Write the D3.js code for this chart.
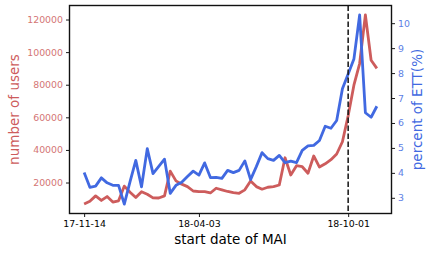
<!DOCTYPE html>
<html><head><meta charset="utf-8">
<script src="https://cdn.jsdelivr.net/npm/d3@7"></script>
<style>
html,body{margin:0;padding:0;background:#fff;}
svg{display:block;font-family:"DejaVu Sans",sans-serif;}
</style></head>
<body><svg id="c" width="426" height="255"></svg>
<script>
const users = [6800, 8500, 11800, 9000, 11400, 8000, 8800, 17800, 14000, 10800, 14400, 12800, 10600, 10500, 11800, 27000, 21000, 19000, 17500, 14800, 14400, 14400, 13600, 16500, 15500, 14500, 13800, 13400, 15500, 21000, 17500, 15900, 17100, 17500, 18500, 35200, 24600, 30300, 29700, 25700, 36300, 29500, 31500, 34000, 37500, 45000, 61000, 79700, 93000, 122800, 95000, 90000];
const ett = [4.01, 3.42, 3.47, 3.8, 3.6, 3.5, 3.5, 2.75, 3.65, 4.5, 3.44, 4.97, 3.97, 4.26, 4.55, 3.18, 3.5, 3.62, 3.85, 4.07, 3.91, 4.40, 3.81, 3.82, 3.78, 4.1, 4.01, 4.1, 4.48, 3.73, 4.25, 4.81, 4.57, 4.5, 4.70, 4.41, 4.47, 4.41, 4.9, 5.08, 5.1, 5.3, 5.87, 5.79, 6.10, 7.37, 7.96, 8.56, 10.33, 6.41, 6.23, 6.67];
const xTickIdx = [0, 20, 46];
const xTickLabels = ["17-11-14", "18-04-03", "18-10-01"];
const leftTicks = [20000, 40000, 60000, 80000, 100000, 120000];
const rightTicks = [3, 4, 5, 6, 7, 8, 9, 10];
const markerIdx = 46;

const red = "#cd5c5c", blue = "#4169e1";
const L = 69.5, R = 391.5, T = 5.5, B = 213.5;
const svg = d3.select("#c");
const n = users.length;
function pad(ext){const r=ext[1]-ext[0];return [ext[0]-0.05*r, ext[1]+0.05*r];}
const x = d3.scaleLinear().domain(pad([0, n-1])).range([L, R]);
const yL = d3.scaleLinear().domain(pad(d3.extent(users))).range([B, T]);
const yR = d3.scaleLinear().domain(pad(d3.extent(ett))).range([B, T]);

const lineU = d3.line().x((d,i)=>x(i)).y(d=>yL(d));
const lineE = d3.line().x((d,i)=>x(i)).y(d=>yR(d));

svg.append("path").datum(users).attr("d", lineU).attr("fill","none")
  .attr("stroke", red).attr("stroke-width", 2.8).attr("stroke-linejoin","round");
svg.append("path").datum(ett).attr("d", lineE).attr("fill","none")
  .attr("stroke", blue).attr("stroke-width", 2.8).attr("stroke-linejoin","round");

svg.append("line").attr("x1", x(markerIdx)).attr("x2", x(markerIdx))
  .attr("y1", T).attr("y2", B).attr("stroke","#222").attr("stroke-width",1.6)
  .attr("stroke-dasharray","5.5,2.5");

// axes
const axL = svg.append("g").attr("transform",`translate(${L},0)`)
  .call(d3.axisLeft(yL).tickValues(leftTicks).tickSize(3.5).tickPadding(3).tickFormat(d3.format("d")));
const axR = svg.append("g").attr("transform",`translate(${R},0)`)
  .call(d3.axisRight(yR).tickValues(rightTicks).tickSize(3.5).tickPadding(3).tickFormat(d3.format("d")));
const axB = svg.append("g").attr("transform",`translate(0,${B})`)
  .call(d3.axisBottom(x).tickValues(xTickIdx).tickSize(3.5).tickPadding(3).tickFormat((d,i)=>xTickLabels[i]));
[axL, axR, axB].forEach(g=>{g.select(".domain").remove();
  g.selectAll("text").style("font-family","DejaVu Sans").style("font-size","9.4px");
  g.selectAll("line").attr("stroke","#000").attr("stroke-width",0.9);});
axL.selectAll("text").attr("fill", red).attr("opacity",0.85);
axR.selectAll("text").attr("fill", blue).attr("opacity",0.85);
axB.selectAll("text").attr("fill", "#000");

svg.append("rect").attr("x",L).attr("y",T).attr("width",R-L).attr("height",B-T)
  .attr("fill","none").attr("stroke","#111").attr("stroke-width",1.4);

svg.append("text").attr("transform",`translate(19,${(T+B)/2}) rotate(-90)`)
  .attr("text-anchor","middle").attr("fill",red).style("font-size","13.5px").text("number of users");
svg.append("text").attr("transform",`translate(422,${(T+B)/2}) rotate(-90)`)
  .attr("text-anchor","middle").attr("fill",blue).style("font-size","13.5px").text("percent of ETT(%)");
svg.append("text").attr("x",(L+R)/2).attr("y",244).attr("text-anchor","middle")
  .attr("fill","#000").style("font-size","13.5px").text("start date of MAI");
</script></body></html>
